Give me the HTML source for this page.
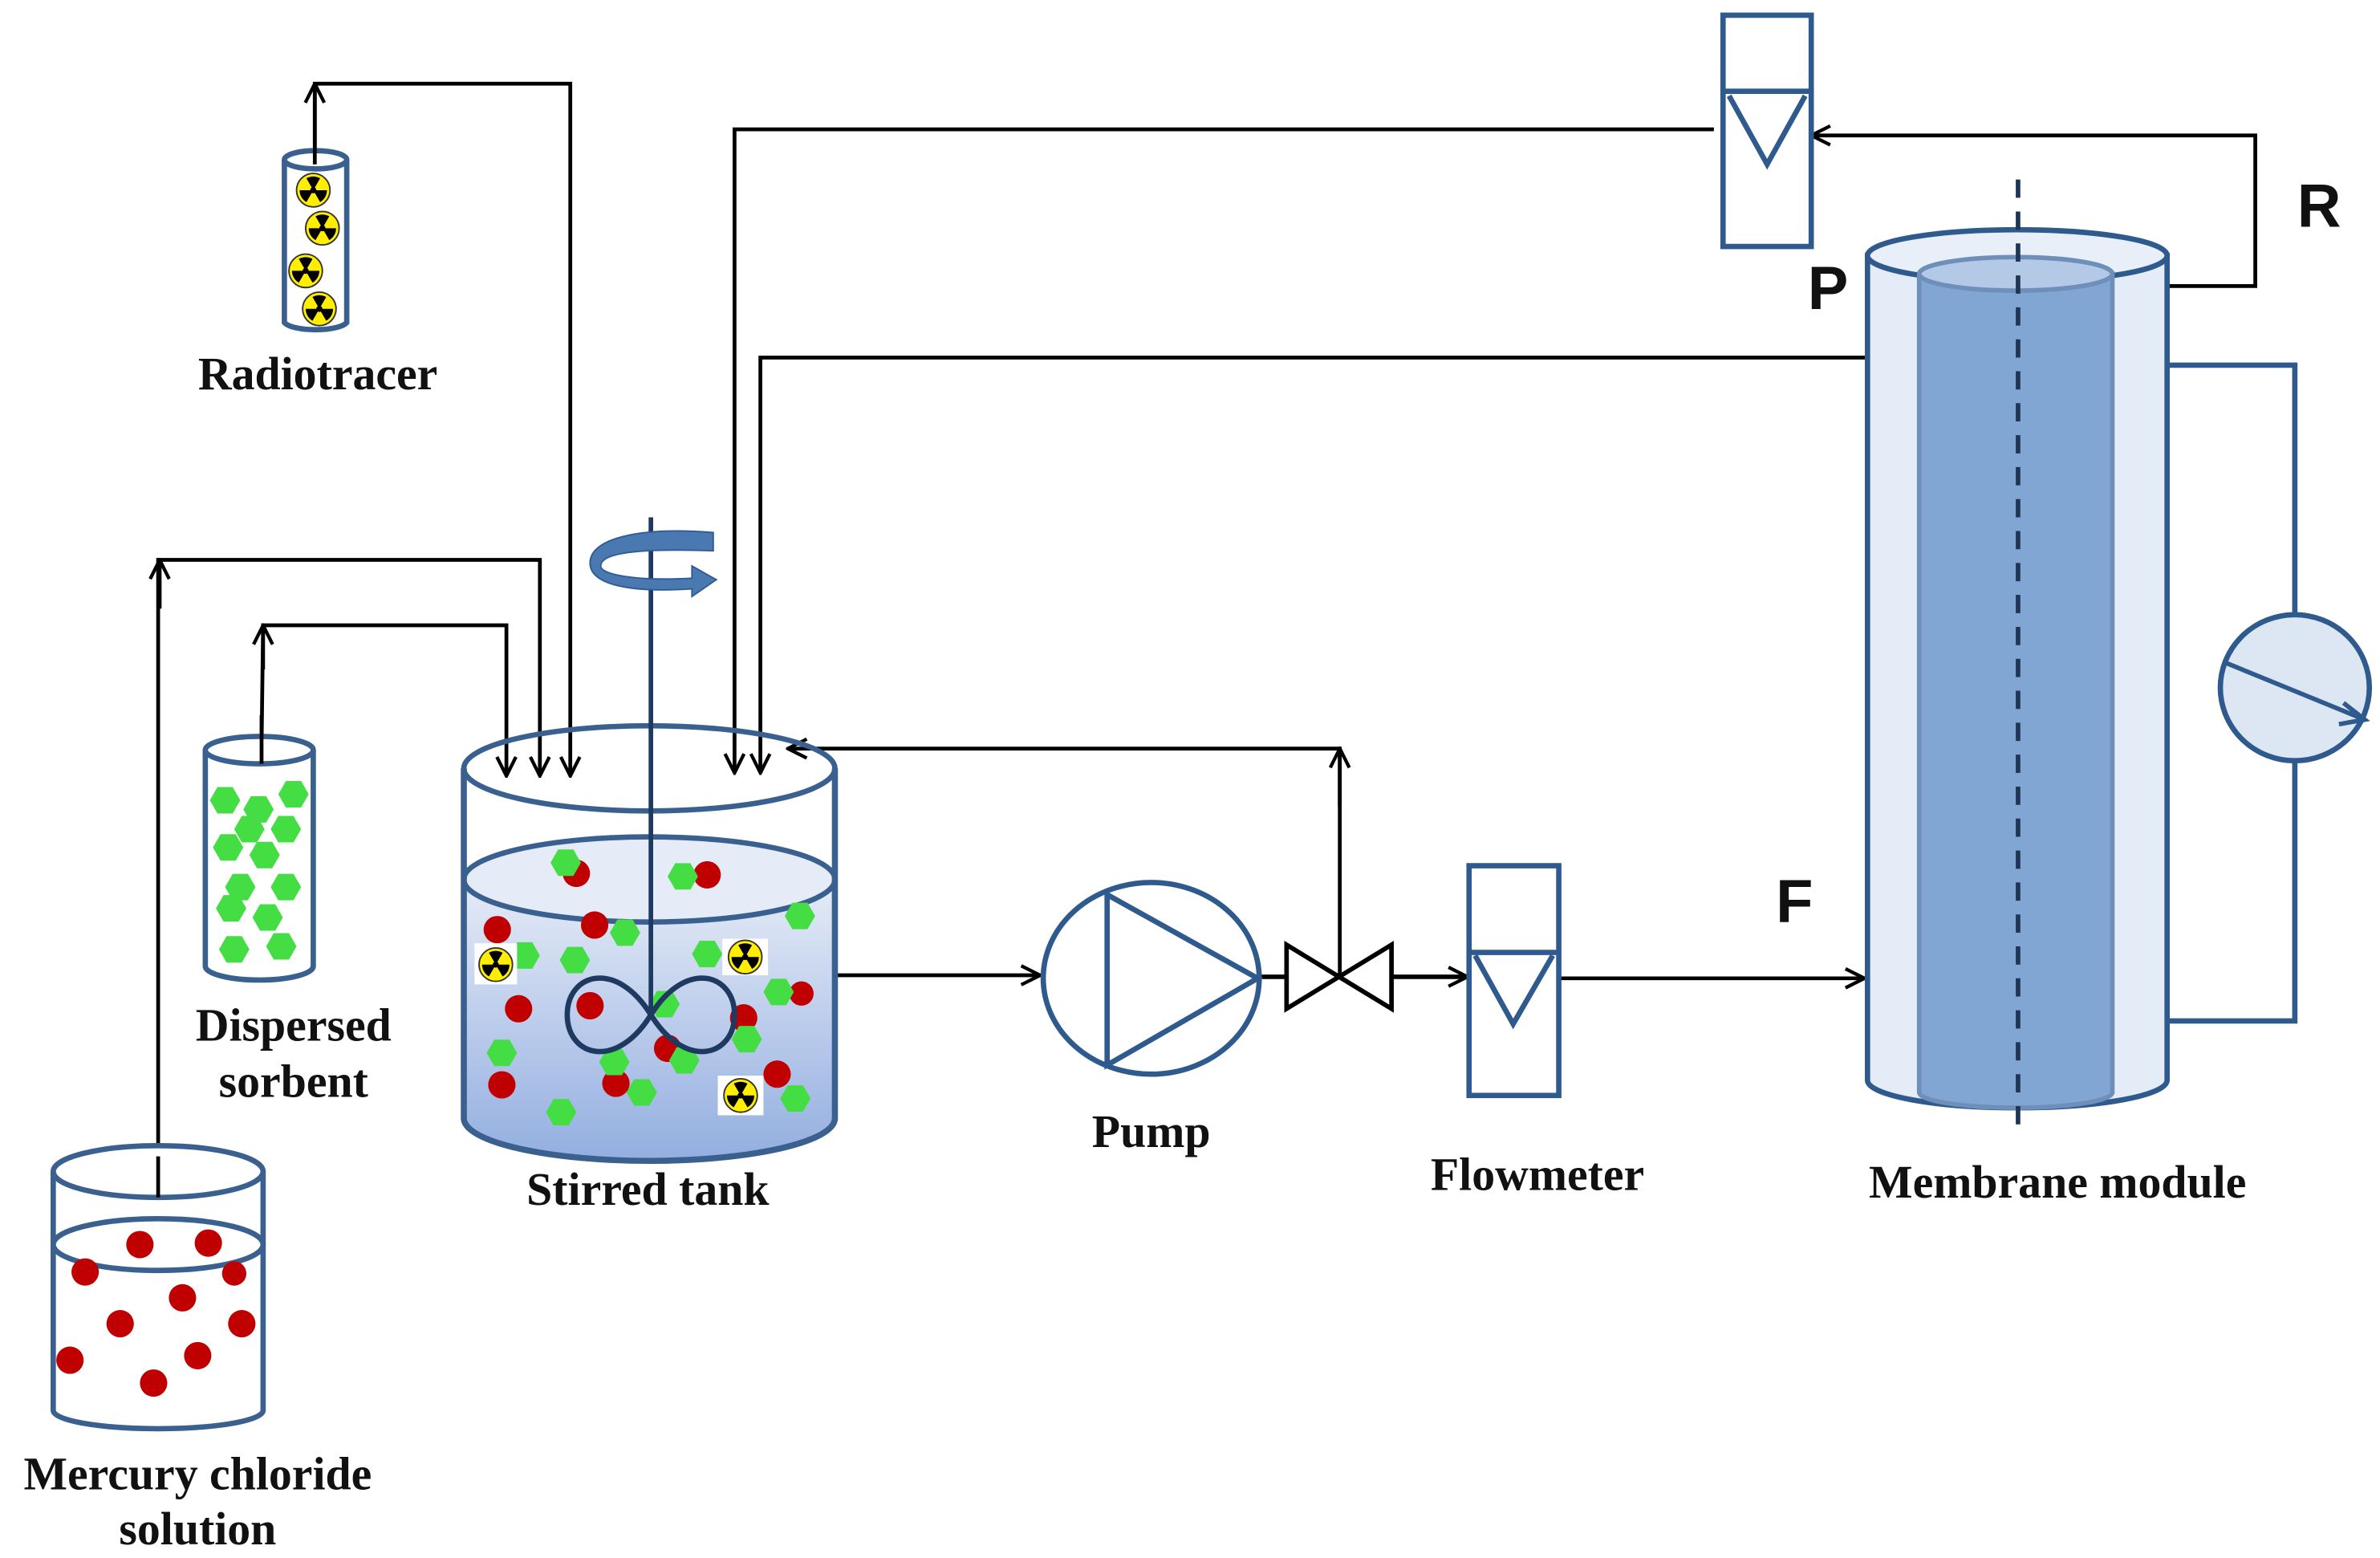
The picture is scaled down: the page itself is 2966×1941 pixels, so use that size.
<!DOCTYPE html>
<html><head><meta charset="utf-8"><style>
html,body{margin:0;padding:0;background:#fff;}
svg{display:block;}
.lbl{font-family:"Liberation Serif",serif;font-weight:bold;font-size:30.5px;fill:#111;text-anchor:middle;}
.big{font-family:"Liberation Sans",sans-serif;font-weight:bold;font-size:40px;fill:#111;text-anchor:middle;}
</style></head><body>
<svg width="2966" height="1941" viewBox="0 0 1565 1024" preserveAspectRatio="none" xmlns="http://www.w3.org/2000/svg">
<defs>
<marker id="ah" viewBox="0 0 12 12" refX="11" refY="6" markerWidth="15" markerHeight="15" markerUnits="userSpaceOnUse" orient="auto">
<path d="M1,1 L11,6 L1,11" fill="none" stroke="#000" stroke-width="1.8"/></marker>
<g id="rad"><circle r="11" fill="#ffee00" stroke="#333" stroke-width="1"/>
<circle r="2" fill="#000"/>
<path d="M0,0 L-4.5,-7.8 A9,9 0 0 1 4.5,-7.8 Z" fill="#000"/>
<path d="M0,0 L9,0 A9,9 0 0 1 4.5,7.8 Z" fill="#000"/>
<path d="M0,0 L-4.5,7.8 A9,9 0 0 1 -9,0 Z" fill="#000"/></g>
<polygon id="hx" points="-10,0 -5,-8.7 5,-8.7 10,0 5,8.7 -5,8.7" fill="#44dd44"/>
<linearGradient id="liq" x1="0" y1="0" x2="0" y2="1"><stop offset="0" stop-color="#e6ecf7"/><stop offset="1" stop-color="#93aee0"/></linearGradient>
</defs>
<g fill="none" stroke="#000" stroke-width="2.5">
<path d="M207,106 V55 H375 V510" marker-end="url(#ah)"/>
<line x1="207" y1="80" x2="207" y2="55" marker-end="url(#ah)"/>
<path d="M172,490 L173,411 H333 V510" marker-end="url(#ah)"/>
<line x1="173" y1="440" x2="173" y2="411" marker-end="url(#ah)"/>
<path d="M104,785 V368 H355 V510" marker-end="url(#ah)"/>
<line x1="105" y1="400" x2="105" y2="368" marker-end="url(#ah)"/>
<path d="M1127,85 H483 V508" marker-end="url(#ah)"/>
<path d="M1228,235 H500 V508" marker-end="url(#ah)"/>
<path d="M881,642 V492 H518" marker-end="url(#ah)"/>
<line x1="881" y1="530" x2="881" y2="492" marker-end="url(#ah)"/>
<line x1="549" y1="641" x2="684" y2="641" marker-end="url(#ah)"/>
<line x1="829" y1="642" x2="846" y2="642" stroke-width="3"/>
<line x1="915" y1="642" x2="965" y2="642" marker-end="url(#ah)" stroke-width="3"/>
<line x1="1025" y1="643" x2="1226" y2="643" marker-end="url(#ah)"/>
<path d="M1425,188 H1483 V89 H1191" marker-end="url(#ah)"/>
<path d="M846,621 L915,663 L915,621 L846,663 Z" stroke-width="3"/>
</g>
<g stroke="#3a6090" stroke-width="3.5" fill="#fff">
<path d="M187,105 V212 A21,6 0 0 0 228,212 V105" />
<ellipse cx="207.5" cy="105" rx="20.5" ry="6"/>
</g>
<line x1="207" y1="108" x2="207" y2="80" stroke="#000" stroke-width="2.5"/>
<use href="#rad" x="206" y="125"/><use href="#rad" x="212" y="150"/><use href="#rad" x="201" y="178"/><use href="#rad" x="210" y="203"/>
<g stroke="#3a6090" stroke-width="3.5" fill="#fff">
<path d="M135,493 V635 A35,9 0 0 0 206,635 V493"/>
<ellipse cx="170.5" cy="493" rx="35.5" ry="9"/>
</g>
<line x1="172" y1="502" x2="172" y2="470" stroke="#000" stroke-width="2.5"/>
<g><use href="#hx" x="148" y="526"/><use href="#hx" x="170" y="532"/><use href="#hx" x="193" y="522"/><use href="#hx" x="164" y="545"/><use href="#hx" x="188" y="545"/><use href="#hx" x="150" y="557"/><use href="#hx" x="174" y="562"/><use href="#hx" x="158" y="583"/><use href="#hx" x="188" y="583"/><use href="#hx" x="152" y="597"/><use href="#hx" x="176" y="603"/><use href="#hx" x="154" y="624"/><use href="#hx" x="185" y="622"/></g>
<g stroke="#3a6090" stroke-width="3.5" fill="#fff">
<path d="M35,770 V927 A69,12 0 0 0 173,927 V770"/>
<ellipse cx="104" cy="770" rx="69" ry="17"/>
<ellipse cx="104" cy="818" rx="69" ry="17"/>
</g>
<line x1="104" y1="787" x2="104" y2="760" stroke="#000" stroke-width="2.5"/>
<g fill="#c00000"><circle cx="92" cy="818" r="9"/><circle cx="137" cy="817" r="9"/><circle cx="56" cy="836" r="9"/><circle cx="154" cy="837" r="8"/><circle cx="120" cy="853" r="9"/><circle cx="79" cy="870" r="9"/><circle cx="159" cy="870" r="9"/><circle cx="46" cy="894" r="9"/><circle cx="130" cy="891" r="9"/><circle cx="101" cy="909" r="9"/></g>
<path d="M305,578 V735 A122,28 0 0 0 549,735 V578 A122,28 0 0 1 305,578 Z" fill="url(#liq)"/>
<ellipse cx="427" cy="578" rx="122" ry="28" fill="#e6ecf7"/>
<g fill="none" stroke="#3a6090" stroke-width="4">
<path d="M305,505 V735 A122,28 0 0 0 549,735 V505"/>
<ellipse cx="427" cy="505" rx="122" ry="28" stroke-width="3.5"/>
<ellipse cx="427" cy="578" rx="122" ry="28" stroke-width="3.5"/>
</g>
<g fill="#c00000"><circle cx="379" cy="574" r="9"/><circle cx="465" cy="575" r="9"/><circle cx="327" cy="611" r="9"/><circle cx="391" cy="608" r="9"/><circle cx="341" cy="663" r="9"/><circle cx="388" cy="661" r="9"/><circle cx="489" cy="669" r="9"/><circle cx="330" cy="713" r="9"/><circle cx="405" cy="712" r="9"/><circle cx="511" cy="706" r="9"/><circle cx="439" cy="689" r="9"/><circle cx="527" cy="653" r="8"/></g>
<g><use href="#hx" x="372" y="567"/><use href="#hx" x="449" y="576"/><use href="#hx" x="526" y="602"/><use href="#hx" x="411" y="613"/><use href="#hx" x="345" y="628"/><use href="#hx" x="378" y="631"/><use href="#hx" x="465" y="627"/><use href="#hx" x="512" y="652"/><use href="#hx" x="491" y="683"/><use href="#hx" x="330" y="692"/><use href="#hx" x="404" y="698"/><use href="#hx" x="450" y="697"/><use href="#hx" x="523" y="722"/><use href="#hx" x="369" y="731"/><use href="#hx" x="437" y="660"/><use href="#hx" x="422" y="718"/></g>
<rect x="312" y="620" width="28" height="27" fill="#fff"/><use href="#rad" x="326" y="634"/>
<rect x="475" y="617" width="30" height="24" fill="#fff"/><use href="#rad" x="490" y="629"/>
<rect x="472" y="707" width="30" height="26" fill="#fff"/><use href="#rad" x="487" y="720"/>
<line x1="428" y1="340" x2="428" y2="668" stroke="#1f3a60" stroke-width="3"/>
<path d="M428,667 C405,630 373,640 373,667 C373,694 405,704 428,667 C451,630 483,640 483,667 C483,694 451,704 428,667 Z" fill="none" stroke="#1f3a60" stroke-width="3.5"/>
<path d="M469,350 L469,362 C410,360 395,365 395,372 C395,378 420,382 455,380 L455,372 L471,381 L455,392 L455,387 C410,390 388,383 388,370 C388,354 420,346 469,350 Z" fill="#4a78b0" stroke="#2f5c94" stroke-width="1"/>
<g fill="none" stroke="#2f5a8e" stroke-width="3.5">
<ellipse cx="757" cy="643" rx="71" ry="63"/>
<path d="M728,588 V700 L827,643 Z"/>
<rect x="966" y="569" width="59" height="151"/>
<line x1="966" y1="626" x2="1025" y2="626"/>
<path d="M970,628 L995,673 L1021,628"/>
<rect x="1133" y="10" width="58" height="152"/>
<line x1="1133" y1="60" x2="1191" y2="60"/>
<path d="M1137,63 L1162,108 L1187,63"/>
</g>
<path d="M1228,168 V710 A98,18 0 0 0 1425,710 V168 Z" fill="#e4ecf7" stroke="#2f5a8e" stroke-width="3.5"/>
<ellipse cx="1326.5" cy="168" rx="98.5" ry="17" fill="#e9eff8" stroke="#2f5a8e" stroke-width="3.5"/>
<path d="M1262,180 V718 A63,10 0 0 0 1389,718 V180 Z" fill="#82a6d3" stroke="#6f8fbb" stroke-width="3"/>
<ellipse cx="1325.5" cy="180" rx="63.5" ry="11" fill="#b3c9e6" stroke="#6f8fbb" stroke-width="3"/>
<line x1="1327" y1="118" x2="1327" y2="746" stroke="#1f3556" stroke-width="3" stroke-dasharray="12,9"/>
<g fill="none" stroke="#2f5a8e" stroke-width="3.5">
<path d="M1425,240 H1509 V405"/>
<path d="M1509,500 V671 H1425"/>
</g>
<ellipse cx="1509" cy="452" rx="49" ry="48" fill="#dde6f3" stroke="#2f5a8e" stroke-width="3.5"/>
<path d="M1462,435 L1555,473 M1541,462 L1555,473 L1538,476" fill="none" stroke="#2f5a8e" stroke-width="3"/>
<text class="lbl" x="209" y="256">Radiotracer</text>
<text class="lbl" x="193" y="684">Dispersed</text>
<text class="lbl" x="193" y="721">sorbent</text>
<text class="lbl" x="130" y="979">Mercury chloride</text>
<text class="lbl" x="130" y="1015">solution</text>
<text class="lbl" x="426" y="792">Stirred tank</text>
<text class="lbl" x="757" y="754">Pump</text>
<text class="lbl" x="1011" y="782">Flowmeter</text>
<text class="lbl" x="1353" y="787">Membrane module</text>
<text class="big" x="1202" y="203">P</text>
<text class="big" x="1525" y="149">R</text>
<text class="big" x="1180" y="606">F</text>
</svg>
</body></html>
